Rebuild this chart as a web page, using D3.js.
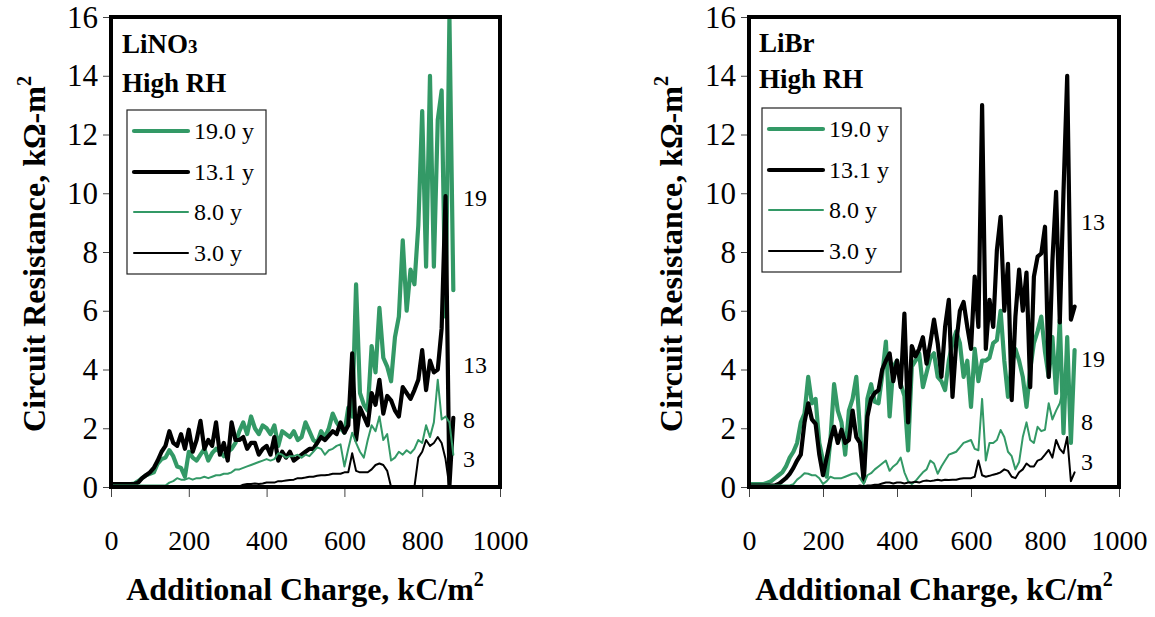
<!DOCTYPE html>
<html><head><meta charset="utf-8">
<script src="https://cdn.jsdelivr.net/npm/d3@7"></script>
<style>
body{margin:0;background:#fff}
svg{display:block}
text{font-family:"Liberation Serif","Times New Roman",serif;fill:#000}
</style>
</head><body>
<svg id="c" width="1155" height="617"></svg>
<script>
// ---- data ----
const charge = [0,10,20,30,40,50,60,70,80,90,100,110,120,130,140,150,160,170,180,190,
200,210,220,230,240,250,260,270,280,290,300,310,320,330,340,350,360,370,380,390,
400,410,420,430,440,450,460,470,480,490,500,510,520,530,540,550,560,570,580,590,
600,610,620,630,640,650,660,670,680,690,700,710,720,730,740,750,760,770,780,790,
800,810,820,830,840,850,860,870,880];

const seriesNames = ["19.0 y","13.1 y","8.0 y","3.0 y"];
const xTicks = [0,200,400,600,800,1000];
const yTicks = [0,2,4,6,8,10,12,14,16];

// LiNO3, High RH
const lino3_19 = [0.1,0.1,0.1,0.1,0.1,0.1,0.12,0.2,0.3,0.4,
0.45,0.5,0.8,0.95,1.0,1.25,1.05,0.7,0.65,0.35,
1.2,1.0,0.9,1.1,1.3,0.9,1.15,1.3,1.2,1.05,
1.2,1.3,1.5,1.9,2.2,1.8,2.4,2.0,1.8,2.1,
2.0,1.8,2.1,1.4,1.9,1.8,1.7,1.9,1.6,1.7,
2.2,1.9,1.6,1.5,1.9,1.7,2.0,2.5,2.2,2.0,
1.85,2.7,2.4,6.9,3.2,2.8,2.6,4.8,3.9,6.1,
4.4,4.1,3.6,5.1,5.8,8.4,6.0,7.4,6.9,8.9,
12.8,7.5,14.0,7.5,12.5,13.5,5.8,16.0,6.7];
const lino3_13 = [0.1,0.1,0.1,0.1,0.1,0.1,0.1,0.15,0.3,0.4,
0.5,0.65,0.9,1.2,1.4,1.9,1.5,1.4,1.8,1.3,
1.95,1.2,1.6,2.25,1.3,1.6,1.4,2.2,1.1,1.5,
0.9,2.2,1.6,1.6,1.7,1.3,1.5,1.5,1.1,1.3,
1.4,1.1,1.7,0.9,1.2,1.0,1.2,0.9,1.0,1.1,
1.2,1.3,1.3,1.5,1.7,1.6,1.75,1.9,1.8,2.2,
1.85,2.1,4.55,1.6,2.7,2.4,2.1,3.2,2.8,3.65,
2.5,3.1,2.95,2.6,2.4,3.4,3.2,3.0,3.3,3.65,
4.66,3.3,4.3,3.9,4.0,5.4,9.9,0.05,2.35];
const lino3_8 = [0.05,0.05,0.05,0.05,0.05,0.05,0.05,0.05,0.05,0.05,
0.05,0.05,0.05,0.05,0.05,0.15,0.2,0.3,0.25,0.25,
0.3,0.25,0.3,0.3,0.35,0.3,0.35,0.4,0.4,0.45,
0.45,0.5,0.6,0.6,0.65,0.7,0.75,0.8,0.85,0.9,
0.95,0.9,0.95,1.15,1.1,1.0,1.05,1.05,1.1,1.0,
1.1,1.05,1.2,1.35,1.3,1.1,1.25,1.3,1.4,1.45,
0.7,1.3,1.85,1.5,1.2,1.0,1.6,2.1,1.9,2.4,
1.6,1.8,0.9,1.0,1.2,1.1,1.25,1.15,1.3,1.6,
1.5,2.1,1.7,2.2,3.65,2.3,2.4,2.2,1.1];
const lino3_3 = [0.02,0.02,0.02,0.02,0.02,0.02,0.02,0.02,0.02,0.02,
0.02,0.02,0.02,0.02,0.02,0.02,0.02,0.02,0.02,0.02,
0.02,0.02,0.02,0.02,0.02,0.02,0.02,0.02,0.02,0.02,
0.02,0.02,0.02,0.02,0.08,0.1,0.1,0.12,0.1,0.12,
0.15,0.15,0.15,0.2,0.2,0.22,0.24,0.25,0.3,0.3,
0.32,0.35,0.35,0.38,0.4,0.4,0.42,0.45,0.45,0.45,
0.5,0.5,1.15,0.55,0.5,0.5,0.5,0.6,0.75,0.8,
0.75,0.55,0,0,0,0,0,0,0,1.0,
1.2,1.6,1.4,1.5,1.7,1.5,0.95,0,null];

// LiBr, High RH
const libr_19 = [0.1,0.1,0.1,0.1,0.1,0.15,0.2,0.3,0.4,0.5,
0.7,1.0,1.2,1.5,2.2,2.5,3.75,2.85,3.0,1.5,
0.9,0.35,1.6,3.5,2.6,2.2,1.1,2.6,3.0,3.75,
1.95,0.25,3.0,3.5,2.9,2.85,3.8,4.95,2.4,4.1,
4.3,3.5,3.1,1.25,4.1,4.3,4.55,3.4,3.9,4.4,
4.55,3.75,3.6,3.3,4.3,4.9,5.3,4.9,3.75,4.3,
2.73,4.7,3.6,4.3,4.3,4.4,4.9,5.0,6.0,4.3,
3.07,4.2,4.7,4.3,3.75,2.73,4.0,4.9,5.3,5.8,
4.6,3.75,5.1,3.2,5.7,1.83,5.1,1.5,4.66];
const libr_13 = [0.05,0.05,0.05,0.05,0.05,0.05,0.05,0.05,0.1,0.2,
0.3,0.45,0.65,0.9,1.1,2.2,2.85,2.3,2.15,1.1,
0.4,1.0,1.6,2.05,1.5,1.95,1.5,1.6,2.6,1.7,
1.5,0.2,2.4,3.0,3.2,3.3,4.0,4.3,4.55,3.6,
4.3,3.4,5.9,2.2,4.8,4.45,4.7,5.1,4.2,4.9,
5.7,4.9,3.75,5.45,6.37,3.07,4.9,6.0,6.3,5.45,
4.7,7.16,5.45,13.0,4.7,6.37,5.45,8.07,9.2,6.0,
7.6,2.96,5.8,7.4,6.0,7.3,3.4,7.16,7.84,7.95,
8.86,3.75,7.7,10.05,5.6,10.05,14.0,5.7,6.14];
const libr_8 = [0.05,0.05,0.05,0.05,0.05,0.05,0.05,0.05,0.05,0.05,
0.05,0.05,0.1,0.25,0.35,0.47,0.45,0.4,0.4,0.3,
0.1,0.2,0.35,0.3,0.3,0.3,0.35,0.4,0.45,0.47,
0.3,0.1,0.4,0.47,0.6,0.7,0.8,0.9,0.55,0.7,
0.8,1.0,0.5,0.2,0.1,0.2,0.35,0.5,0.6,0.9,
0.8,0.45,0.7,0.9,1.1,1.15,1.2,1.35,1.5,1.55,
1.6,1.3,1.25,3.0,0.9,1.5,1.5,1.6,1.94,1.7,
1.2,1.05,0.6,0.85,1.7,2.2,1.6,1.5,2.05,1.9,
1.95,2.85,2.3,2.6,2.85,3.4,4.3,2.6,null];
const libr_3 = [0.03,0.03,0.03,0.03,0.03,0.03,0.03,0.03,0.03,0.03,
0.03,0.03,0.03,0.03,0.03,0.03,0.03,0.03,0.03,0.03,
0.03,0.03,0.03,0.03,0.03,0.03,0.03,0.03,0.03,0.03,
0.05,0.03,0.05,0.05,0.08,0.08,0.12,0.15,0.15,0.12,
0.15,0.15,0.12,0.15,0.15,0.18,0.15,0.2,0.22,0.2,
0.22,0.25,0.22,0.25,0.24,0.25,0.25,0.28,0.3,0.3,
0.3,0.35,0.9,0.4,0.35,0.38,0.42,0.45,0.5,0.6,
0.55,0.35,0.3,0.5,0.6,0.8,0.7,0.7,0.9,0.95,
1.1,1.26,1.0,1.6,1.3,1.15,1.7,0.2,0.5];

const GREEN = "#339966";
const styles = [
  {color:GREEN, width:4.2},
  {color:"#000", width:4.2},
  {color:GREEN, width:2},
  {color:"#000", width:2}
];

const panels = [
  {name:"LiNO", sub:"3", x0:111, x1:500, data:[lino3_19,lino3_13,lino3_8,lino3_3],
   titleX:122, titleY1:53, titleY2:92, legX:127, legY:110,
   yTitleX:45, xTitleX:305, labelX:463,
   endLabels:[["19",198],["13",365],["8",420],["3",459]]},
  {name:"LiBr", sub:"", x0:749, x1:1119, data:[libr_19,libr_13,libr_8,libr_3],
   titleX:759, titleY1:52, titleY2:88, legX:762, legY:108,
   yTitleX:682, xTitleX:934, labelX:1081,
   endLabels:[["13",222],["19",359],["8",422],["3",462]]}
];

const svg = d3.select("#c");
const plotTop = 17, plotBottom = 487;

panels.forEach(p => {
  const x = d3.scaleLinear().domain([0,1000]).range([p.x0, p.x1]);
  const y = d3.scaleLinear().domain([0,16]).range([plotBottom, plotTop]);
  const g = svg.append("g");

  // axes
  const ya = g.append("g").attr("transform", `translate(${p.x0},0)`)
    .call(d3.axisLeft(y).tickValues(yTicks).tickSize(8).tickPadding(5).tickFormat(d3.format("d")));
  ya.select(".domain").remove();
  ya.selectAll(".tick line").attr("stroke","#444").attr("stroke-width",1);
  ya.selectAll(".tick text").attr("font-size",31).attr("font-family","Liberation Serif").attr("dy","0.33em");

  const xa = g.append("g").attr("transform", `translate(0,${plotBottom})`)
    .call(d3.axisBottom(x).tickValues(xTicks).tickSize(10).tickFormat(d3.format("d")));
  xa.select(".domain").remove();
  xa.selectAll(".tick line").attr("stroke","#444").attr("stroke-width",1);
  xa.selectAll(".tick text").attr("font-size",28).attr("font-family","Liberation Serif").attr("y",63).attr("dy",null);

  // lines
  const clipId = "clip" + p.x0;
  svg.append("clipPath").attr("id", clipId).append("rect")
    .attr("x", p.x0).attr("y", plotTop - 2).attr("width", p.x1 - p.x0).attr("height", plotBottom - plotTop + 2);
  const lg = g.append("g").attr("clip-path", `url(#${clipId})`);
  p.data.forEach((vals, i) => {
    const pts = charge.map((c, k) => [c, vals[k]]);
    const line = d3.line().defined(d => d[1] !== null && d[1] !== undefined)
      .x(d => x(d[0])).y(d => y(d[1]));
    lg.append("path").attr("d", line(pts)).attr("fill","none")
      .attr("stroke", styles[i].color).attr("stroke-width", styles[i].width)
      .attr("stroke-linejoin","round").attr("stroke-linecap","round");
  });

  // frame
  g.append("rect").attr("x", p.x0).attr("y", plotTop).attr("width", p.x1 - p.x0).attr("height", plotBottom - plotTop)
    .attr("fill","none").attr("stroke","#000").attr("stroke-width",4);

  // panel title
  const t1 = g.append("text").attr("x", p.titleX).attr("y", p.titleY1)
    .attr("font-size",27).attr("font-weight","bold").text(p.name);
  if (p.sub) t1.append("tspan").attr("font-size",19).text(p.sub);
  g.append("text").attr("x", p.titleX).attr("y", p.titleY2)
    .attr("font-size",27).attr("font-weight","bold").text("High RH");

  // legend
  const lw = 139, lh = 164;
  g.append("rect").attr("x", p.legX).attr("y", p.legY).attr("width", lw).attr("height", lh)
    .attr("fill","#fff").attr("stroke","#222").attr("stroke-width",1.2);
  const offs = [21, 62, 102, 143];
  seriesNames.forEach((nm, i) => {
    const yy = p.legY + offs[i];
    g.append("line").attr("x1", p.legX + 7).attr("x2", p.legX + 61).attr("y1", yy).attr("y2", yy)
      .attr("stroke", styles[i].color).attr("stroke-width", styles[i].width).attr("stroke-linecap","round");
    g.append("text").attr("x", p.legX + 67).attr("y", yy).attr("dy","0.33em")
      .attr("font-size",24).text(nm);
  });

  // end labels
  p.endLabels.forEach(([t, yy]) => {
    g.append("text").attr("x", p.labelX).attr("y", yy).attr("dy","0.33em").attr("font-size",24).text(t);
  });

  // axis titles
  const yt = g.append("text").attr("transform", `translate(${p.yTitleX},${(plotTop+plotBottom)/2 + 2}) rotate(-90)`)
    .attr("text-anchor","middle").attr("font-size",32).attr("font-weight","bold")
    .text("Circuit Resistance, kΩ-m");
  yt.append("tspan").attr("font-size",20).attr("dy",-14).text("2");

  const xt = g.append("text").attr("x", p.xTitleX).attr("y", 600)
    .attr("text-anchor","middle").attr("font-size",32).attr("font-weight","bold")
    .text("Additional Charge, kC/m");
  xt.append("tspan").attr("font-size",20).attr("dy",-14).text("2");
});
</script>
</body></html>
